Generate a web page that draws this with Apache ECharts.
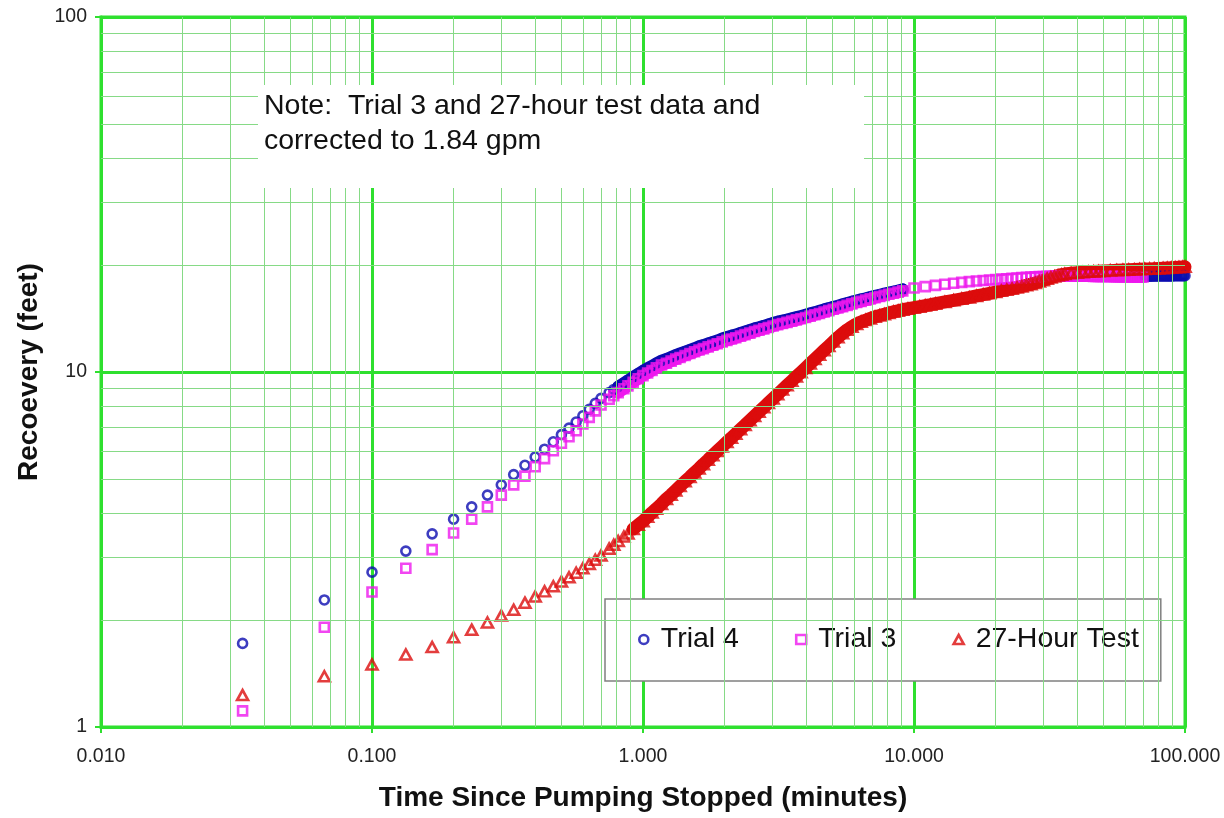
<!DOCTYPE html>
<html>
<head>
<meta charset="utf-8">
<script src="https://cdn.jsdelivr.net/npm/echarts@6/dist/echarts.min.js"></script>
<style>
  html, body { margin: 0; padding: 0; background: #fff; }
  #chart { width: 1224px; height: 818px; }
</style>
</head>
<body>
<div id="chart"></div>
<script>
// Recovery after pumping stopped: time (minutes) vs recovery (feet), log-log.

// Tick labels
const xTickLabels = ['0.010', '0.100', '1.000', '10.000', '100.000'];
const yTickLabels = ['1', '10', '100'];

// Early readings, one every 2 seconds
const earlyTimes = [0.0333, 0.0667, 0.1, 0.1333, 0.1667, 0.2, 0.2333, 0.2667, 0.3, 0.3333,
  0.3667, 0.4, 0.4333, 0.4667, 0.5, 0.5333, 0.5667, 0.6, 0.6333, 0.6667, 0.7];
const trial4Early = [1.72, 2.28, 2.73, 3.13, 3.50, 3.85, 4.17, 4.50, 4.81, 5.14,
  5.46, 5.76, 6.06, 6.36, 6.66, 6.95, 7.23, 7.53, 7.85, 8.16, 8.43];
const trial3Early = [1.11, 1.91, 2.40, 2.80, 3.16, 3.52, 3.85, 4.17, 4.50, 4.81,
  5.09, 5.41, 5.70, 6.00, 6.30, 6.57, 6.83, 7.14, 7.45, 7.77, 8.07];
const hourEarly = [1.23, 1.39, 1.50, 1.60, 1.68, 1.79, 1.88, 1.97, 2.06, 2.14,
  2.24, 2.33, 2.41, 2.49, 2.57, 2.64, 2.72, 2.80, 2.88, 2.96, 3.04];

// Middle section (0.75 - 9 minutes)
const denseTimes = [0.75, 0.78, 0.81, 0.85, 0.88, 0.92, 0.96, 1.0, 1.04, 1.08, 1.12, 1.17, 1.22,
  1.27, 1.32, 1.37, 1.43, 1.49, 1.55, 1.61, 1.67, 1.74, 1.81, 1.88, 1.96, 2.04, 2.12, 2.2, 2.29,
  2.38, 2.48, 2.58, 2.68, 2.79, 2.9, 3.02, 3.14, 3.27, 3.4, 3.54, 3.68, 3.83, 3.98, 4.14, 4.31,
  4.48, 4.66, 4.85, 5.04, 5.24, 5.45, 5.67, 5.9, 6.14, 6.38, 6.64, 6.9, 7.18, 7.47, 7.77, 8.08,
  8.4, 8.74, 9.09];
const trial4Dense = [8.75, 8.93, 9.10, 9.31, 9.47, 9.69, 9.89, 10.08, 10.25, 10.40, 10.58, 10.76, 10.88,
  11.02, 11.16, 11.28, 11.41, 11.54, 11.67, 11.81, 11.91, 12.04, 12.16, 12.27, 12.43, 12.55, 12.66,
  12.75, 12.89, 13.01, 13.14, 13.27, 13.37, 13.49, 13.62, 13.75, 13.86, 13.96, 14.06, 14.17, 14.27,
  14.38, 14.50, 14.63, 14.74, 14.87, 15.01, 15.13, 15.26, 15.37, 15.51, 15.64, 15.78, 15.89, 16.02,
  16.13, 16.26, 16.39, 16.50, 16.62, 16.73, 16.84, 16.96, 17.09];
const trial3Dense = [8.38, 8.57, 8.75, 8.97, 9.14, 9.36, 9.57, 9.77, 9.94, 10.10, 10.27, 10.46, 10.58,
  10.73, 10.87, 10.99, 11.13, 11.27, 11.40, 11.53, 11.64, 11.77, 11.89, 12.01, 12.16, 12.28, 12.39,
  12.49, 12.62, 12.74, 12.87, 13.00, 13.11, 13.23, 13.35, 13.48, 13.60, 13.70, 13.80, 13.91, 14.02,
  14.13, 14.24, 14.37, 14.49, 14.62, 14.76, 14.89, 15.02, 15.14, 15.28, 15.41, 15.56, 15.69, 15.81,
  15.94, 16.07, 16.20, 16.32, 16.44, 16.56, 16.67, 16.79, 16.92];
const hourDense = [3.18, 3.26, 3.34, 3.44, 3.51, 3.61, 3.71, 3.80, 3.91, 4.02, 4.12, 4.25, 4.39,
  4.51, 4.64, 4.77, 4.92, 5.06, 5.21, 5.35, 5.50, 5.66, 5.83, 5.99, 6.17, 6.35, 6.53, 6.70, 6.90,
  7.09, 7.31, 7.52, 7.73, 7.95, 8.18, 8.42, 8.66, 8.92, 9.17, 9.44, 9.71, 9.99, 10.27, 10.57, 10.88,
  11.19, 11.51, 11.84, 12.18, 12.52, 12.85, 13.15, 13.42, 13.65, 13.85, 14.00, 14.15, 14.30, 14.42,
  14.55, 14.66, 14.77, 14.88, 14.98];

// Late readings
const trial3LateTimes = [10, 11, 12, 13, 14, 15, 16, 17, 18, 19, 20, 21, 22, 23, 24, 25, 26, 27, 28, 29,
  30, 31, 32, 33, 34, 35, 36, 37, 38, 39, 40, 41, 42, 43, 44, 45, 46, 47, 48, 49, 50, 51, 52, 53, 54,
  55, 56, 57, 58, 59, 60, 61, 62, 63, 64, 65, 66, 67, 68, 69, 70];
const trial3Late = [17.25, 17.40, 17.54, 17.67, 17.78, 17.88, 17.97, 18.04, 18.10, 18.16, 18.21, 18.26,
  18.31, 18.36, 18.40, 18.44, 18.47, 18.50, 18.53, 18.56, 18.58, 18.60, 18.61, 18.62, 18.62, 18.63,
  18.63, 18.63, 18.63, 18.62, 18.62, 18.61, 18.61, 18.60, 18.60, 18.60, 18.59, 18.59, 18.59, 18.58,
  18.58, 18.58, 18.57, 18.57, 18.57, 18.56, 18.56, 18.56, 18.55, 18.55, 18.55, 18.55, 18.54, 18.54,
  18.54, 18.54, 18.53, 18.53, 18.53, 18.53, 18.52];
const trial4LateTimes = [71, 72, 73, 74, 75, 76, 77, 78, 79, 80, 81, 82, 83, 84, 85, 86, 87, 88, 89, 90,
  91, 92, 93, 94, 95, 96, 97, 98, 99, 100];
const trial4Late = [18.60, 18.61, 18.61, 18.62, 18.62, 18.63, 18.63, 18.63, 18.64, 18.64, 18.64, 18.65,
  18.65, 18.65, 18.65, 18.66, 18.66, 18.66, 18.66, 18.66, 18.67, 18.67, 18.67, 18.67, 18.67, 18.67,
  18.68, 18.68, 18.68, 18.68];
const hourLateTimes = [9.5, 10, 10.5, 11, 11.5, 12, 13, 14, 15, 16, 17, 18, 19, 20, 21, 22, 23, 24, 25,
  26, 27, 28, 29, 30, 31, 32, 33, 34, 35, 36, 38, 40, 42, 44, 46, 48, 50, 53, 56, 59, 62, 65, 68, 71,
  74, 77, 80, 83, 86, 89, 92, 95, 98, 100];
const hourLate = [15.07, 15.18, 15.28, 15.38, 15.47, 15.57, 15.75, 15.92, 16.08, 16.22, 16.38, 16.52,
  16.66, 16.80, 16.93, 17.05, 17.17, 17.30, 17.42, 17.55, 17.68, 17.82, 17.98, 18.14, 18.30, 18.45,
  18.58, 18.70, 18.80, 18.88, 18.98, 19.05, 19.10, 19.15, 19.19, 19.23, 19.26, 19.30, 19.34, 19.37,
  19.40, 19.43, 19.46, 19.49, 19.52, 19.55, 19.58, 19.61, 19.64, 19.67, 19.70, 19.73, 19.76, 19.78];

// Styling
const FONT = '"Liberation Sans", Arial, Helvetica, sans-serif';
const MAJOR = '#2fe02f';
const MINOR = '#86da86';
const BLUE = '#0c0cb0';
const MAGENTA = '#ee18ee';
const RED = '#dc0c0c';
const CLEAR = 'rgba(0,0,0,0)';

const pairs = (ts, vs) => ts.map((t, i) => [t, vs[i]]);
const within = (pts, a, b) => pts.filter(p => p[0] >= a && p[0] <= b);

const trial4 = pairs(earlyTimes, trial4Early).concat(pairs(denseTimes, trial4Dense), pairs(trial4LateTimes, trial4Late));
const trial3 = pairs(earlyTimes, trial3Early).concat(pairs(denseTimes, trial3Dense), pairs(trial3LateTimes, trial3Late));
const hour27 = pairs(earlyTimes, hourEarly).concat(pairs(denseTimes, hourDense), pairs(hourLateTimes, hourLate));

// Minor grid at 2..9 within each decade
const multiples = [2, 3, 4, 5, 6, 7, 8, 9];
const minorX = [0.01, 0.1, 1, 10].flatMap(d => multiples.map(k => +(d * k).toPrecision(3)));
const minorY = [1, 10].flatMap(d => multiples.map(k => d * k));

// Solid trail drawn beneath the densely packed markers
function band(name, pts, color, width) {
  return {
    name: name, type: 'line', data: pts, symbol: 'none', silent: true, z: 2,
    lineStyle: { color: color, width: width, cap: 'round', join: 'round' },
    emphasis: { disabled: true }, animation: false
  };
}
function marks(name, pts, symbol, size, color) {
  return {
    name: name, type: 'scatter', data: pts, symbol: symbol, symbolSize: size, silent: true, z: 2,
    itemStyle: { color: CLEAR, borderColor: color, borderWidth: 2.6 },
    emphasis: { disabled: true }, animation: false
  };
}

const chart = echarts.init(document.getElementById('chart'), null, { renderer: 'canvas' });
chart.setOption({
  backgroundColor: '#fff',
  animation: false,
  grid: {
    left: 101, right: 39, top: 17, bottom: 91,
    show: true, borderColor: MAJOR, borderWidth: 3, backgroundColor: '#fff'
  },
  xAxis: {
    type: 'log', logBase: 10, min: 0.01, max: 100,
    axisLine: { show: true, lineStyle: { color: MAJOR, width: 3 } },
    axisTick: { show: true, length: 6, lineStyle: { color: MAJOR, width: 2 } },
    splitLine: { show: true, lineStyle: { color: MAJOR, width: 3 } },
    minorTick: { show: false }, minorSplitLine: { show: false },
    axisLabel: {
      color: '#222', fontSize: 19.5, fontFamily: FONT, margin: 20,
      formatter: v => xTickLabels[Math.round(Math.log10(v)) + 2]
    },
    name: 'Time Since Pumping Stopped (minutes)',
    nameLocation: 'middle', nameGap: 57,
    nameTextStyle: { color: '#111', fontSize: 28, fontWeight: 'bold', fontFamily: FONT }
  },
  yAxis: {
    type: 'log', logBase: 10, min: 1, max: 100,
    axisLine: { show: true, lineStyle: { color: MAJOR, width: 3 } },
    axisTick: { show: true, length: 6, lineStyle: { color: MAJOR, width: 2 } },
    splitLine: { show: true, lineStyle: { color: MAJOR, width: 3 } },
    minorTick: { show: false }, minorSplitLine: { show: false },
    axisLabel: {
      color: '#222', fontSize: 19.5, fontFamily: FONT, margin: 14,
      formatter: v => yTickLabels[Math.round(Math.log10(v))]
    },
    name: 'Recoevery (feet)',
    nameLocation: 'middle', nameGap: 58, nameRotate: 90,
    nameTextStyle: { color: '#111', fontSize: 28, fontWeight: 'bold', fontFamily: FONT }
  },
  legend: {
    left: 605, top: 599,
    padding: [26, 22, 27, 33],
    itemGap: 56, itemWidth: 10, itemHeight: 9,
    backgroundColor: '#fff', borderColor: '#808080', borderWidth: 1.5,
    selectedMode: false,
    textStyle: { color: '#111', fontSize: 28.5, fontFamily: FONT, padding: [0, 0, 0, 7] },
    data: [
      { name: 'Trial 4', icon: 'circle', itemStyle: { color: CLEAR, borderColor: BLUE, borderWidth: 2.6 } },
      { name: 'Trial 3', icon: 'rect', itemStyle: { color: CLEAR, borderColor: MAGENTA, borderWidth: 2.6 } },
      { name: '27-Hour Test', icon: 'triangle', itemStyle: { color: CLEAR, borderColor: RED, borderWidth: 2.6 } }
    ]
  },
  graphic: [
    { type: 'rect', left: 258, top: 85, z: 20, shape: { width: 606, height: 103 }, style: { fill: '#fff' } },
    {
      type: 'text', left: 264, top: 89, z: 21,
      style: {
        text: 'Note:  Trial 3 and 27-hour test data and\ncorrected to 1.84 gpm',
        font: '28.5px ' + FONT, fill: '#111', lineHeight: 35
      }
    }
  ],
  series: [
    {
      name: 'grid', type: 'line', data: [], z: 1, silent: true, animation: false,
      markLine: {
        silent: true, symbol: ['none', 'none'], animation: false,
        label: { show: false },
        lineStyle: { color: MINOR, width: 1, type: 'solid' },
        emphasis: { disabled: true },
        data: minorX.map(v => ({ xAxis: v })).concat(minorY.map(v => ({ yAxis: v })))
      }
    },
    band('Trial 4 trail', within(trial4, 0.8, 9.1), BLUE, 12),
    marks('Trial 4', trial4, 'circle', 9, BLUE),
    band('Trial 3 trail', within(trial3, 0.8, 9.1), MAGENTA, 12),
    marks('Trial 3', trial3, 'rect', 9, MAGENTA),
    band('27-Hour Test trail', within(hour27, 0.92, 100), RED, 13),
    marks('27-Hour Test', hour27, 'triangle', [11, 10], RED)
  ]
});
</script>
</body>
</html>
